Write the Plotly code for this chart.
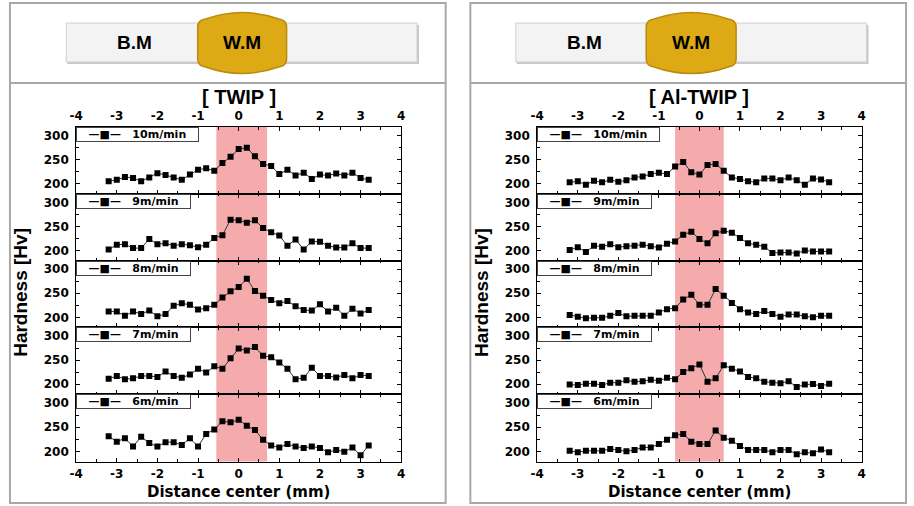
import plotly.graph_objects as go

# ---------------- data ----------------
X_MM = [-3.2, -3.0, -2.8, -2.6, -2.4, -2.2, -2.0, -1.8, -1.6, -1.4, -1.2, -1.0, -0.8,
        -0.6, -0.4, -0.2, 0.0, 0.2, 0.4, 0.6, 0.8, 1.0, 1.2, 1.4, 1.6, 1.8, 2.0, 2.2,
        2.4, 2.6, 2.8, 3.0, 3.2]
SPEEDS = ["10m/min", "9m/min", "8m/min", "7m/min", "6m/min"]

TWIP_10 = [205, 208, 214, 212, 205, 213, 222, 218, 213, 208, 219, 229, 232, 227, 243, 256, 272,
           275, 257, 241, 237, 220, 229, 217, 223, 210, 219, 217, 221, 217, 223, 212, 208]
TWIP_9 = [202, 212, 213, 205, 205, 224, 213, 215, 210, 213, 211, 207, 212, 226, 232, 264, 263,
          258, 263, 247, 238, 231, 210, 223, 202, 219, 218, 210, 206, 206, 215, 205, 205]
TWIP_8 = [212, 212, 203, 212, 207, 214, 202, 207, 224, 229, 226, 216, 219, 226, 241, 254, 263,
          280, 255, 245, 236, 229, 234, 223, 215, 214, 227, 212, 220, 203, 218, 208, 215]
TWIP_7 = [211, 217, 210, 212, 217, 217, 215, 226, 217, 213, 220, 232, 224, 237, 232, 254, 274,
          270, 277, 259, 256, 245, 232, 210, 213, 234, 217, 217, 214, 219, 212, 219, 217]
TWIP_6 = [231, 220, 227, 210, 230, 217, 210, 219, 219, 213, 227, 210, 236, 245, 262, 260, 265,
          253, 244, 224, 212, 208, 215, 210, 207, 210, 207, 198, 203, 199, 208, 192, 212]

AL_10 = [203, 205, 198, 206, 203, 208, 204, 207, 213, 215, 220, 223, 220, 236, 245, 224, 219,
         239, 241, 227, 213, 210, 205, 203, 211, 211, 207, 213, 207, 198, 211, 209, 203]
AL_9 = [201, 207, 197, 210, 208, 213, 207, 209, 210, 212, 209, 206, 214, 219, 233, 239, 224,
        215, 236, 241, 237, 226, 215, 212, 208, 195, 196, 196, 194, 200, 198, 198, 198]
AL_8 = [205, 201, 198, 199, 199, 203, 209, 202, 203, 203, 203, 210, 217, 219, 237, 247, 226,
        226, 259, 245, 230, 217, 210, 207, 213, 207, 201, 206, 206, 202, 200, 203, 203]
AL_7 = [199, 198, 201, 201, 198, 203, 203, 208, 205, 206, 209, 207, 213, 210, 225, 233, 241,
        205, 212, 239, 232, 226, 215, 212, 205, 203, 202, 206, 194, 199, 200, 196, 201]
AL_6 = [201, 198, 201, 201, 201, 205, 203, 200, 203, 208, 208, 215, 224, 233, 236, 220, 215,
        215, 243, 228, 222, 211, 203, 203, 203, 198, 203, 203, 194, 198, 196, 204, 198]

PANEL_TITLES = ["[ TWIP ]", "[ Al-TWIP ]"]
WM_ZONE = [(-0.55, 0.7), (-0.6, 0.6)]
X_TICKS = [-4, -3, -2, -1, 0, 1, 2, 3, 4]
X_TICK_LABELS = ["-4", "-3", "-2", "-1", "0", "1", "2", "3", "4"]
X_MINOR = [-3.5, -2.5, -1.5, -0.5, 0.5, 1.5, 2.5, 3.5]
Y_TICKS = [200, 250, 300]
Y_MINOR = [225, 275]

SERIES = [[TWIP_10, TWIP_9, TWIP_8, TWIP_7, TWIP_6],
          [AL_10, AL_9, AL_8, AL_7, AL_6]]

# ---------------- layout helpers ----------------
W, H = 914, 506


def px(x):
    return x / W


def py(y):
    return 1 - y / H


ROW_EDGES = [127, 193.8, 260.6, 327.4, 394.2, 461.5]
COL_X = [(70, 399), (536.7, 865)]
TICKFONT = dict(family="DejaVu Sans", size=12, color="black", weight="bold")
NB = "\u00a0"

fig = go.Figure()
layout = {}
shapes = []
annotations = []

for c in range(2):
    for r in range(5):
        k = c * 5 + r + 1
        xname = "xaxis" if k == 1 else f"xaxis{k}"
        yname = "yaxis" if k == 1 else f"yaxis{k}"
        xref = "x" if k == 1 else f"x{k}"
        yref = "y" if k == 1 else f"y{k}"
        x0, x1 = COL_X[c]
        top, bot = ROW_EDGES[r], ROW_EDGES[r + 1]

        fig.add_trace(go.Scatter(
            x=X_MM, y=SERIES[c][r], mode="lines+markers", name=SPEEDS[r],
            xaxis=xref, yaxis=yref, showlegend=False,
            line=dict(color="#333333", width=1),
            marker=dict(symbol="square", size=6, color="black"),
        ))

        layout[xname] = dict(
            domain=[px(x0), px(x1)], anchor=yref, range=[-4, 4],
            tickmode="array", tickvals=X_TICKS, ticktext=X_TICK_LABELS,
            ticks="inside", ticklen=4, tickwidth=1, tickcolor="black",
            minor=dict(tickmode="array", tickvals=X_MINOR, ticks="inside",
                       ticklen=2.5, tickcolor="black"),
            showline=True, linecolor="black", linewidth=1, mirror="ticks",
            showgrid=False, zeroline=False,
            showticklabels=(r == 0 or r == 4),
            side="top" if r == 0 else "bottom",
            tickfont=TICKFONT, ticklabelstandoff=1,
        )
        layout[yname] = dict(
            domain=[py(bot), py(top)], anchor=xref, range=[179, 318],
            tickmode="array", tickvals=Y_TICKS,
            ticks="inside", ticklen=4, tickwidth=1, tickcolor="black",
            minor=dict(tickmode="array", tickvals=Y_MINOR, ticks="inside",
                       ticklen=2.5, tickcolor="black"),
            showline=True, linecolor="black", linewidth=1, mirror="ticks",
            showgrid=False, zeroline=False,
            tickfont=TICKFONT, ticklabelstandoff=4,
        )
        # legend box of each panel
        annotations.append(dict(
            text=f"{NB}{NB}{NB}\u2014\u25a0\u2014{NB}{NB}{NB}{SPEEDS[r]}{NB}{NB}{NB}",
            x=px(x0), y=py(top), xref="paper", yref="paper",
            xanchor="left", yanchor="top", showarrow=False, align="left",
            bgcolor="white", bordercolor="#444444", borderwidth=1, borderpad=0,
            font=dict(family="DejaVu Sans", size=11, color="black", weight="bold"),
        ))
        zx0, zx1 = WM_ZONE[c]
        shapes.append(dict(
            type="rect", xref=xref, yref=f"{yref} domain",
            x0=zx0, x1=zx1, y0=0, y1=1,
            fillcolor="#F5ABAB", line=dict(width=0), layer="below",
        ))

    # titles and axis labels
    x0, x1 = COL_X[c]
    xc = (x0 + x1) / 2
    annotations.append(dict(
        text=PANEL_TITLES[c], x=px(xc), y=py(97), xref="paper", yref="paper",
        showarrow=False, xanchor="center", yanchor="middle",
        font=dict(family="Liberation Sans", size=20, color="black", weight="bold"),
    ))
    annotations.append(dict(
        text="Distance center (mm)", x=px(xc), y=py(492), xref="paper", yref="paper",
        showarrow=False, xanchor="center", yanchor="middle",
        font=dict(family="DejaVu Sans", size=15, color="black", weight="bold"),
    ))
    annotations.append(dict(
        text="Hardness [Hv]", x=px(x0 - 57), y=py(292), xref="paper", yref="paper",
        showarrow=False, xanchor="center", yanchor="middle", textangle=-90,
        font=dict(family="Liberation Sans", size=19, color="black", weight="bold"),
    ))

# ---------------- decorative frame and header diagram ----------------
BOXES = [(3, 444), (469, 910)]
HEADER_BAR = [(60, 415), (515, 870)]
GOLD = [(193, 283), (647, 738)]
BM_X = [129, 585]


def P(x, y):
    return f"{px(x):.5f},{py(y):.5f}"


for c in range(2):
    bx0, bx1 = BOXES[c]
    shapes.append(dict(type="rect", xref="paper", yref="paper",
                       x0=px(bx0), x1=px(bx1), y0=py(503), y1=py(3),
                       line=dict(color="#A8A8A8", width=2), fillcolor="rgba(0,0,0,0)"))
    shapes.append(dict(type="line", xref="paper", yref="paper",
                       x0=px(bx0), x1=px(bx1), y0=py(83), y1=py(83),
                       line=dict(color="#A8A8A8", width=2)))
    hx0, hx1 = HEADER_BAR[c]
    shapes.append(dict(type="rect", xref="paper", yref="paper",
                       x0=px(hx0 + 1), x1=px(hx1 + 2), y0=py(64), y1=py(25),
                       line=dict(width=0), fillcolor="#C8C8C8"))
    shapes.append(dict(type="rect", xref="paper", yref="paper",
                       x0=px(hx0), x1=px(hx1), y0=py(62), y1=py(23),
                       line=dict(color="#D0D0D0", width=1), fillcolor="#F3F3F3"))
    gx0, gx1 = GOLD[c]
    gm = (gx0 + gx1) / 2
    path = (f"M {P(gx0, 27)} Q {P(gx0, 20)} {P(gx0 + 8, 19)} "
            f"Q {P(gm, 6)} {P(gx1 - 8, 19)} Q {P(gx1, 20)} {P(gx1, 27)} "
            f"L {P(gx1, 59)} Q {P(gx1, 66)} {P(gx1 - 8, 67)} "
            f"Q {P(gm, 80)} {P(gx0 + 8, 67)} Q {P(gx0, 66)} {P(gx0, 59)} Z")
    shapes.append(dict(type="path", xref="paper", yref="paper", path=path,
                       fillcolor="#DDA915", line=dict(color="#B98A0C", width=1.5)))
    annotations.append(dict(
        text="B.M", x=px(BM_X[c]), y=py(43), xref="paper", yref="paper",
        showarrow=False, xanchor="center", yanchor="middle",
        font=dict(family="Liberation Sans", size=19, color="black", weight="bold"),
    ))
    annotations.append(dict(
        text="W.M", x=px(gm), y=py(43), xref="paper", yref="paper",
        showarrow=False, xanchor="center", yanchor="middle",
        font=dict(family="Liberation Sans", size=19, color="black", weight="bold"),
    ))

fig.update_layout(
    width=W, height=H,
    margin=dict(l=0, r=0, t=0, b=0, pad=0),
    paper_bgcolor="white", plot_bgcolor="white",
    showlegend=False,
    shapes=shapes, annotations=annotations,
    **layout,
)

fig.write_html("out.html", config={"displayModeBar": False},
               post_script="document.body.style.margin='0';document.body.style.padding='0';")
